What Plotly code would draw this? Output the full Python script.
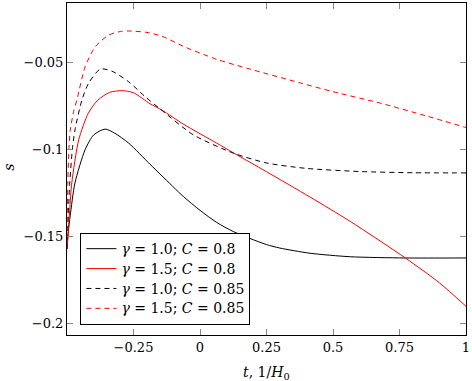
import plotly.graph_objects as go

# ---- data ----
t_black_solid = [-0.5, -0.495, -0.488, -0.47, -0.432, -0.40, -0.357, -0.32, -0.268, -0.188, -0.143,
                 -0.063, 0.0, 0.063, 0.125, 0.188, 0.25, 0.30, 0.414, 0.565, 0.772, 1.0]
s_black_solid = [-0.157, -0.147, -0.138, -0.119, -0.100, -0.0915, -0.0881, -0.0905, -0.0962, -0.1083, -0.1150,
                 -0.1268, -0.1348, -0.1418, -0.1470, -0.1510, -0.1545, -0.1565, -0.1595, -0.1615, -0.1622, -0.1622]

t_red_solid = [-0.5, -0.49, -0.482, -0.456, -0.42, -0.384, -0.34, -0.294, -0.25, -0.188, -0.143,
               -0.063, 0.063, 0.125, 0.25, 0.414, 0.565, 0.772, 0.9, 1.0]
s_red_solid = [-0.157, -0.135, -0.119, -0.0943, -0.079, -0.0714, -0.067, -0.066, -0.0672, -0.0735, -0.0772,
               -0.0852, -0.0962, -0.1017, -0.1126, -0.1272, -0.1412, -0.1622, -0.1765, -0.190]

t_black_dash = [-0.5, -0.49, -0.48, -0.47, -0.444, -0.419, -0.375, -0.331, -0.268, -0.206, -0.15,
                -0.025, 0.125, 0.251, 0.40, 0.6, 0.8, 1.0]
s_black_dash = [-0.157, -0.12, -0.10, -0.0886, -0.0714, -0.0618, -0.0536, -0.0548, -0.0609, -0.0695, -0.0765,
                -0.0914, -0.1019, -0.1076, -0.1107, -0.1125, -0.1132, -0.1133]

t_red_dash = [-0.5, -0.497, -0.493, -0.488, -0.475, -0.463, -0.432, -0.394, -0.344, -0.30, -0.268, -0.2,
              -0.143, -0.063, 0.063, 0.188, 0.376, 0.5, 0.678, 0.85, 1.0]
s_red_dash = [-0.157, -0.12, -0.10, -0.089, -0.078, -0.0714, -0.0523, -0.0408, -0.0341, -0.032, -0.0317, -0.0325,
              -0.0347, -0.0405, -0.048, -0.0536, -0.0615, -0.0666, -0.0732, -0.0805, -0.0872]

x_tickvals = [-0.25, 0, 0.25, 0.5, 0.75, 1]
x_ticktext = ["\u22120.25", "0", "0.25", "0.5", "0.75", "1"]
y_tickvals = [-0.05, -0.1, -0.15, -0.2]
y_ticktext = ["\u22120.05", "\u22120.1", "\u22120.15", "\u22120.2"]

legend_labels = [
    "<i>\u03b3</i> = 1.0; <i>C</i> = 0.8",
    "<i>\u03b3</i> = 1.5; <i>C</i> = 0.8",
    "<i>\u03b3</i> = 1.0; <i>C</i> = 0.85",
    "<i>\u03b3</i> = 1.5; <i>C</i> = 0.85",
]

FONT = "DejaVu Serif"
fig = go.Figure()
series = [
    (t_black_solid, s_black_solid, "black", "solid"),
    (t_red_solid, s_red_solid, "red", "solid"),
    (t_black_dash, s_black_dash, "black", "5px,4px"),
    (t_red_dash, s_red_dash, "red", "5px,4px"),
]
for (xs, ys, col, dash), lab in zip(series, legend_labels):
    fig.add_trace(go.Scatter(x=xs, y=ys, mode="lines",
                             name='<span style="font-size:14px">' + lab + "</span>",
                             line=dict(color=col, width=1, dash=dash, shape="spline", smoothing=0.7)))

axis_common = dict(showgrid=False, zeroline=False, showline=True, linecolor="black", linewidth=1,
                   mirror="allticks", ticks="inside", ticklen=6, tickcolor="#888888", tickwidth=1,
                   tickfont=dict(family=FONT, size=13, color="black"))
fig.update_xaxes(range=[-0.5, 1.0], tickvals=x_tickvals, ticktext=x_ticktext, **axis_common)
fig.update_yaxes(range=[-0.2065, -0.0156], tickvals=y_tickvals, ticktext=y_ticktext, **axis_common)

fig.update_layout(
    width=472, height=381,
    margin=dict(l=67, r=6, t=3, b=46),
    plot_bgcolor="white", paper_bgcolor="white",
    font=dict(family=FONT, size=14, color="black"),
    legend=dict(x=0.0336, y=0.031, xanchor="left", yanchor="bottom",
                bordercolor="black", borderwidth=1, bgcolor="white",
                font=dict(family=FONT, size=13), itemwidth=30, tracegroupgap=0),
    showlegend=True,
    annotations=[
        dict(text="<i>s</i>", xref="paper", yref="paper", x=-0.146, y=0.506,
             xanchor="center", yanchor="middle",
             showarrow=False, textangle=-90, font=dict(family=FONT, size=14)),
        dict(text="<i>t</i>, 1/<i>H</i><sub>0</sub>", xref="paper", yref="paper", x=0.5, y=-0.113,
             xanchor="center", yanchor="middle", showarrow=False, font=dict(family=FONT, size=14)),
    ],
)

fig.write_html("out.html", config={"displayModeBar": False},
               post_script="document.body.style.margin='0';document.body.style.padding='0';")
